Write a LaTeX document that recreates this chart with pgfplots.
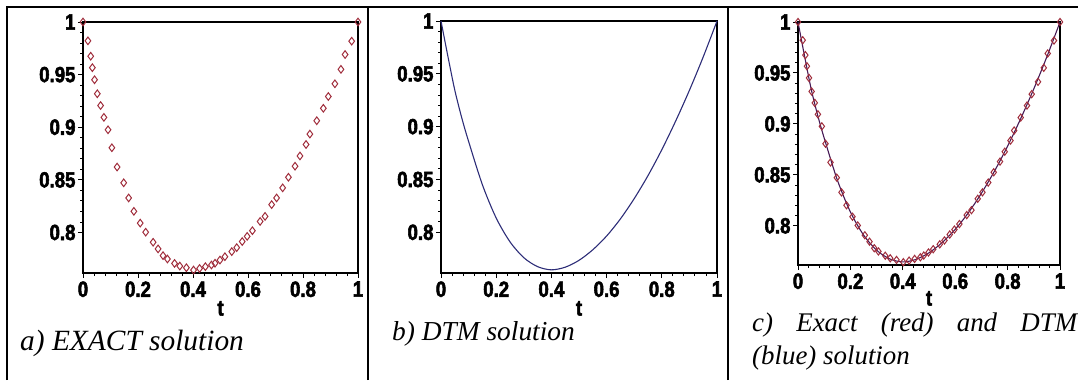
\documentclass[border=0pt]{standalone}
\usepackage{fontspec}
\setmainfont{Liberation Serif}
\newfontfamily\tickfont{Liberation Sans}[BoldFeatures={FakeBold=2.5,FakeStretch=0.85}]
\usepackage{pgfplots}
\usepackage{pgfplotstable}
\pgfplotsset{compat=1.18}
\definecolor{exred}{RGB}{160,45,60}
\definecolor{dtmblue}{RGB}{45,45,120}
\definecolor{mixline}{RGB}{70,25,85}

\pgfplotstableread{
t y
0     1.0000
0.018 0.9821
0.028 0.9675
0.034 0.9566
0.042 0.9451
0.052 0.9318
0.064 0.9206
0.076 0.9094
0.091 0.8976
0.105 0.8805
0.124 0.8622
0.148 0.8472
0.166 0.8328
0.185 0.8201
0.208 0.8089
0.228 0.8003
0.255 0.7907
0.273 0.7844
0.291 0.7780
0.307 0.7748
0.333 0.7706
0.352 0.7681
0.376 0.7665
0.402 0.7643
0.424 0.7658
0.445 0.7675
0.467 0.7691
0.480 0.7708
0.498 0.7738
0.516 0.7770
0.541 0.7818
0.559 0.7856
0.579 0.7914
0.597 0.7963
0.616 0.8017
0.644 0.8105
0.662 0.8153
0.686 0.8265
0.704 0.8328
0.726 0.8424
0.747 0.8525
0.771 0.8630
0.789 0.8727
0.811 0.8836
0.825 0.8935
0.850 0.9062
0.874 0.9180
0.892 0.9292
0.916 0.9413
0.938 0.9550
0.953 0.9691
0.977 0.9818
1     1.0000
}\exacttab

\pgfplotstableread{
t y
0     1.0000
0.025 0.9665
0.05  0.9345
0.075 0.9085
0.10  0.8860
0.15  0.8450
0.20  0.8135
0.25  0.7910
0.30  0.7760
0.35  0.7675
0.40  0.7645
0.45  0.7670
0.50  0.7735
0.55  0.7835
0.60  0.7965
0.65  0.8127
0.70  0.8319
0.75  0.8537
0.80  0.8782
0.85  0.9052
0.90  0.9344
0.95  0.9660
1.00  1.0000
}\dtmtab

\pgfplotsset{maple/.style={
  scale only axis, clip=false,
  xmin=0, xmax=1, ymin=0.7615, ymax=1,
  xtick={0,0.2,0.4,0.6,0.8,1}, xticklabels={0,0.2,0.4,0.6,0.8,1},
  ytick={0.8,0.85,0.9,0.95,1}, yticklabels={0.8,0.85,0.9,0.95,1},
  minor x tick num=4, minor y tick num=4,
  xtick pos=bottom, ytick pos=left, tick align=outside,
  major tick length=5bp, minor tick length=3bp,
  every tick/.style={black, line width=0.9bp},
  axis line style={black, line width=1.2bp},
  tick label style={font=\tickfont\bfseries\fontsize{22}{22}\selectfont},
  yticklabel style={xshift=1bp},
  xlabel={t},
  xlabel style={font=\tickfont\bfseries\fontsize{22}{22}\selectfont, at={(axis description cs:0.5,0)}, anchor=north, yshift=-28bp, inner sep=0pt},
}}

\begin{document}
\begin{tikzpicture}[x=1bp,y=1bp]
\useasboundingbox (0,0) rectangle (1078,380);
% table frame
\draw[line width=2bp] (7,373) -- (1078,373);
\draw[line width=2bp] (7,0) -- (7,374);
\draw[line width=2bp] (368,0) -- (368,374);
\draw[line width=2bp] (728,0) -- (728,374);

\begin{axis}[maple, at={(83bp,107bp)}, anchor=south west, width=275bp, height=251bp]
\addplot[only marks, mark=diamond, mark size=3.8bp, exred, mark options={line width=1bp, fill=none}] table[x=t,y=y]{\exacttab};
\end{axis}

\begin{axis}[maple, at={(441bp,107bp)}, anchor=south west, width=276bp, height=252bp]
\addplot[dtmblue, line width=1.1bp, smooth, mark=none] table[x=t,y=y]{\dtmtab};
\end{axis}

\begin{axis}[maple, at={(798bp,115bp)}, anchor=south west, width=262bp, height=243bp,
  xlabel style={yshift=2bp}]
\addplot[only marks, mark=diamond, mark size=3.6bp, exred, mark options={line width=1bp, fill=none}] table[x=t,y=y]{\exacttab};
\addplot[mixline, line width=1.1bp, smooth, mark=none] table[x=t,y=y]{\dtmtab};
\end{axis}

\node[anchor=base west, inner sep=0pt, font=\itshape\fontsize{29.5}{29.5}\selectfont] at (20,30) {a) EXACT solution};
\node[anchor=base west, inner sep=0pt, font=\itshape\fontsize{27.5}{27.5}\selectfont] at (392,40) {b) DTM solution};
\node[anchor=base west, inner sep=0pt, font=\itshape\fontsize{27}{27}\selectfont] at (752,49) {\makebox[325bp][s]{c) Exact (red) and DTM}};
\node[anchor=base west, inner sep=0pt, font=\itshape\fontsize{27}{27}\selectfont] at (752,16) {(blue) solution};
\end{tikzpicture}
\end{document}
